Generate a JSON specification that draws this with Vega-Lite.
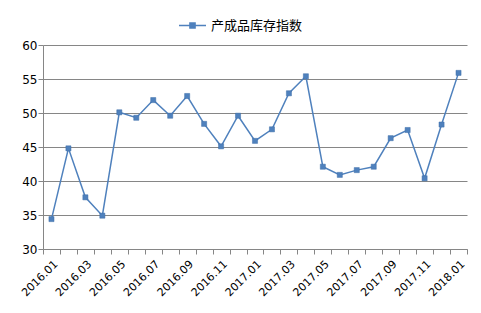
{
  "$schema": "https://vega.github.io/schema/vega-lite/v6.json",
  "width": 424,
  "height": 204,
  "autosize": {"type": "none"},
  "padding": {"left": 43, "top": 45, "right": 14, "bottom": 64},
  "background": "white",
  "config": {
    "view": {"stroke": null},
    "axis": {"labelFont": "DejaVu Sans", "labelColor": "#000000", "domainColor": "#868686", "tickColor": "#868686", "gridColor": "#868686", "gridWidth": 1}
  },
  "data": {
    "values": [
      {"month": "2016.01", "value": 34.4},
      {"month": "2016.02", "value": 44.8},
      {"month": "2016.03", "value": 37.6},
      {"month": "2016.04", "value": 34.9},
      {"month": "2016.05", "value": 50.1},
      {"month": "2016.06", "value": 49.3},
      {"month": "2016.07", "value": 51.9},
      {"month": "2016.08", "value": 49.6},
      {"month": "2016.09", "value": 52.5},
      {"month": "2016.10", "value": 48.4},
      {"month": "2016.11", "value": 45.1},
      {"month": "2016.12", "value": 49.6},
      {"month": "2017.01", "value": 45.9},
      {"month": "2017.02", "value": 47.6},
      {"month": "2017.03", "value": 52.9},
      {"month": "2017.04", "value": 55.4},
      {"month": "2017.05", "value": 42.1},
      {"month": "2017.06", "value": 40.9},
      {"month": "2017.07", "value": 41.6},
      {"month": "2017.08", "value": 42.1},
      {"month": "2017.09", "value": 46.3},
      {"month": "2017.10", "value": 47.5},
      {"month": "2017.11", "value": 40.4},
      {"month": "2017.12", "value": 48.3},
      {"month": "2018.01", "value": 55.9}
    ]
  },
  "encoding": {
    "x": {
      "field": "month", "type": "ordinal", "title": null,
      "scale": {"type": "band", "paddingInner": 0, "paddingOuter": 0},
      "axis": {
        "tickBand": "extent", "labelAngle": -45, "labelFontSize": 11, "tickSize": 5, "labelPadding": 4,
        "labelExpr": "parseInt(substring(datum.value,5,7)) % 2 == 1 ? datum.value : ''",
        "labelOverlap": false, "grid": false
      }
    },
    "y": {
      "field": "value", "type": "quantitative", "title": null,
      "scale": {"domain": [30, 60], "nice": false, "zero": false},
      "axis": {"values": [30, 35, 40, 45, 50, 55, 60], "labelFontSize": 12, "tickSize": 5, "labelPadding": 1, "grid": true}
    }
  },
  "layer": [
    {
      "mark": {"type": "line", "color": "#4f81bd", "strokeWidth": 1.5}
    },
    {
      "mark": {"type": "point", "shape": "square", "filled": true, "size": 26, "opacity": 1, "stroke": "#3f6fa8", "strokeWidth": 0.5},
      "encoding": {
        "color": {
          "datum": "产成品库存指数",
          "scale": {"range": ["#4f81bd"]},
          "legend": {
            "orient": "none", "legendX": 135, "legendY": -34, "title": null, "direction": "horizontal",
            "symbolType": "M-1,0H1M-0.19,-0.19H0.19V0.19H-0.19Z",
            "symbolSize": 729, "symbolStrokeWidth": 1.5, "symbolStrokeColor": "#4f81bd", "symbolFillColor": "#4f81bd",
            "labelFont": "Noto Sans CJK SC", "labelFontSize": 13, "labelColor": "#000000", "labelOffset": 4
          }
        }
      }
    }
  ]
}
